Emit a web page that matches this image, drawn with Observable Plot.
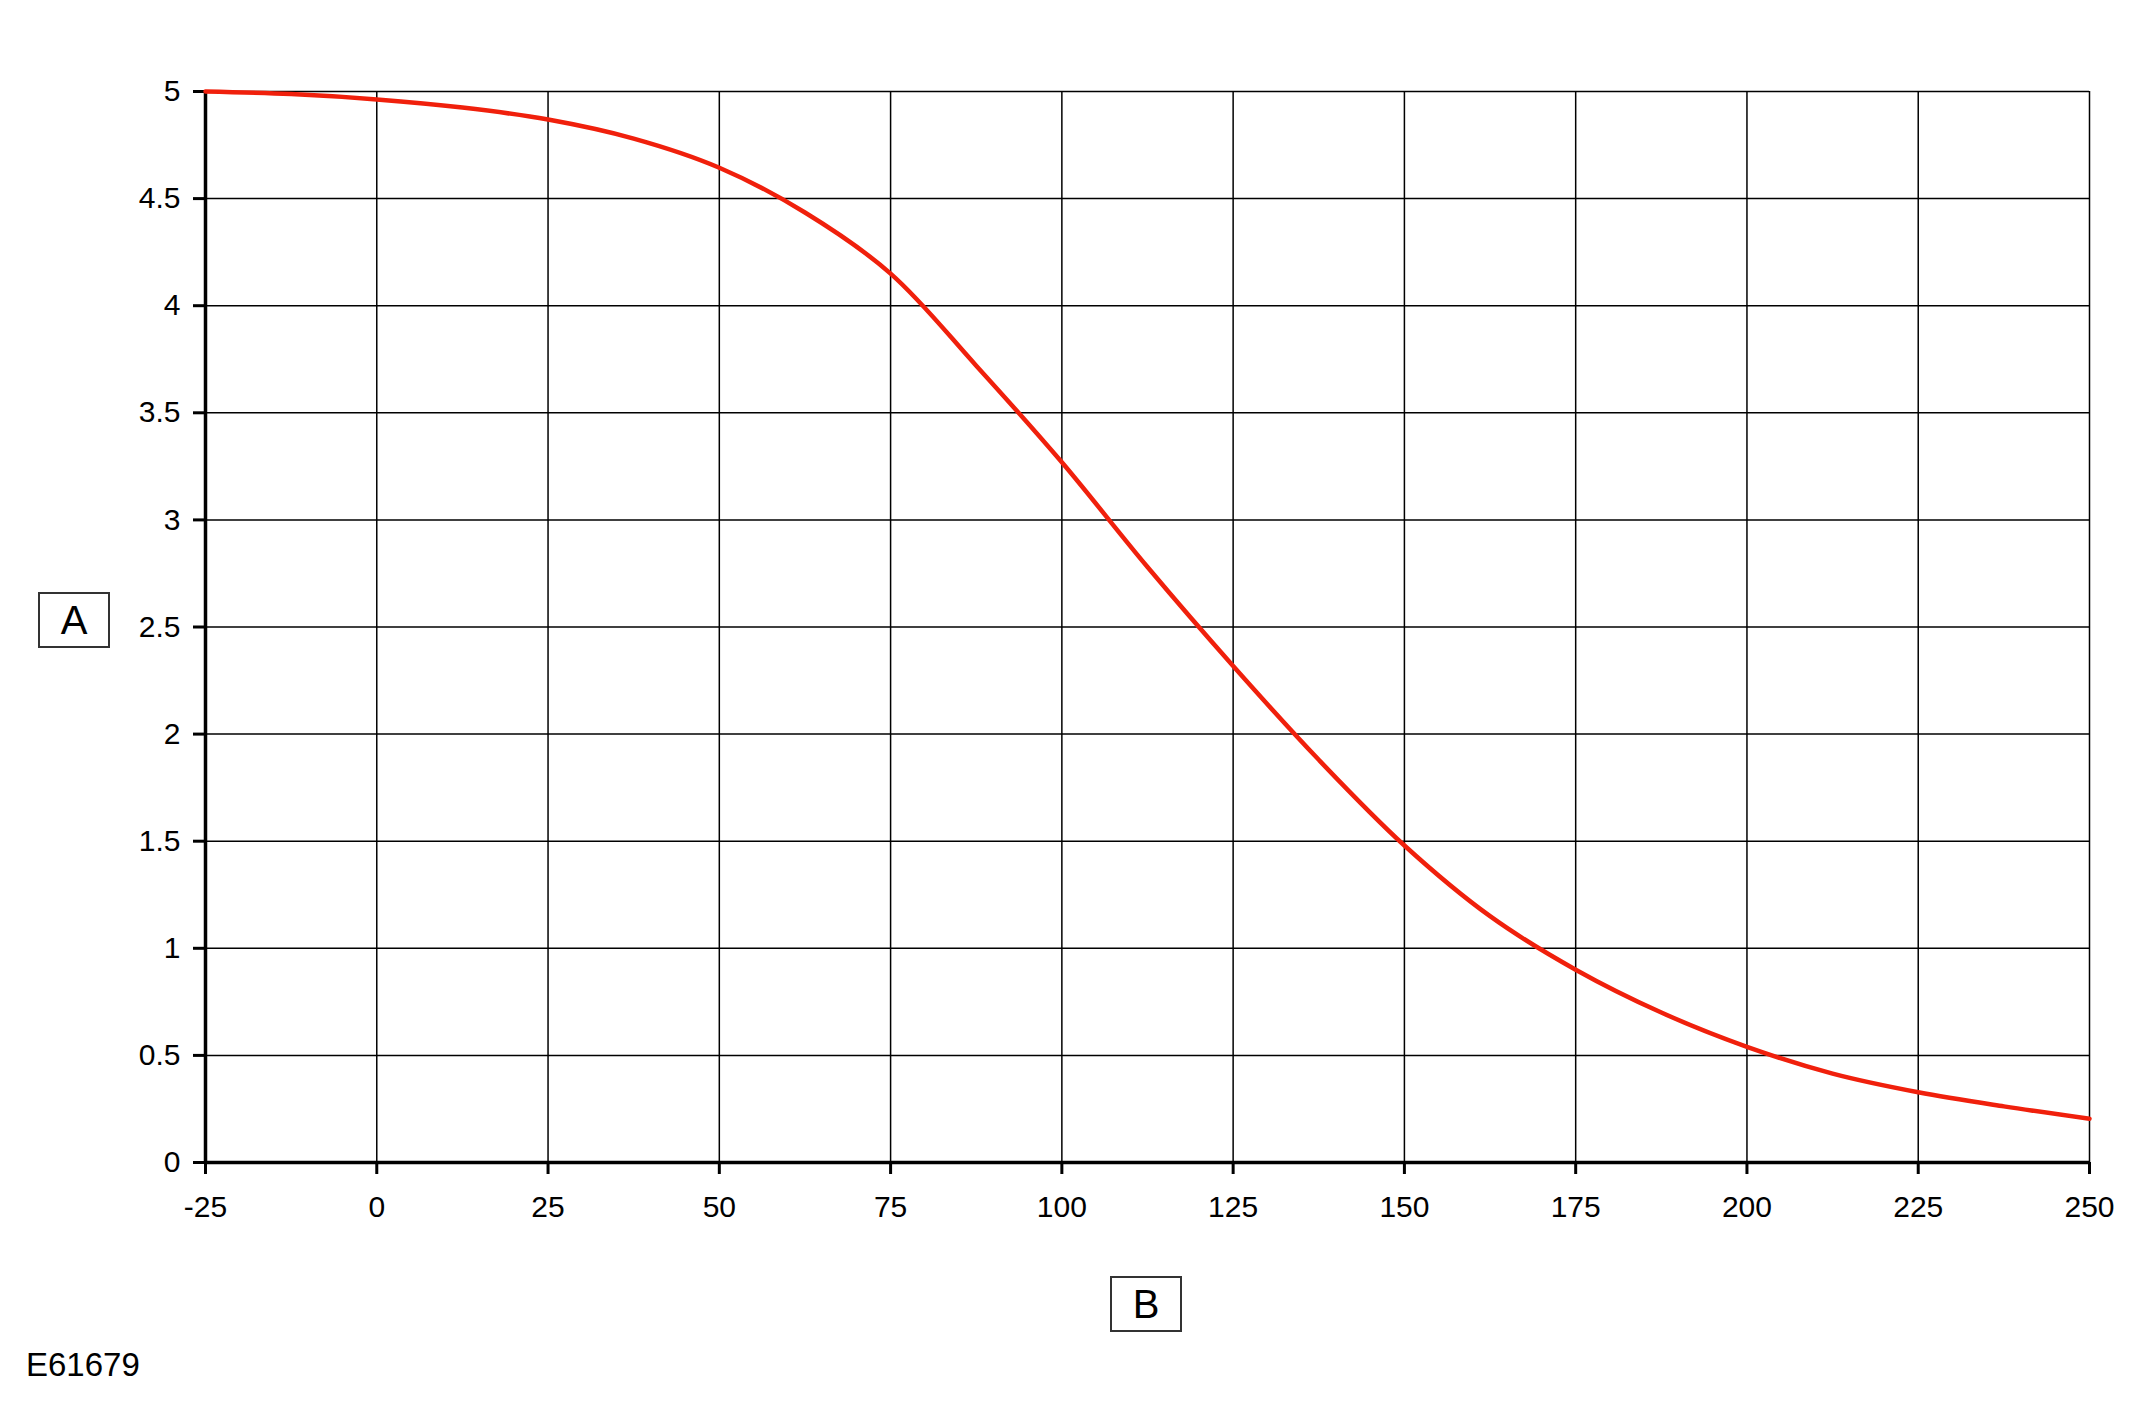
<!DOCTYPE html>
<html>
<head>
<meta charset="utf-8">
<script src="https://cdn.jsdelivr.net/npm/d3@7"></script>
<script src="https://cdn.jsdelivr.net/npm/@observablehq/plot@0.6"></script>
<style>
  html, body { margin: 0; padding: 0; background: white; }
  #wrap { position: relative; width: 2139px; height: 1407px; font-family: "Liberation Sans", Arial, Helvetica, sans-serif; }
  .box { position: absolute; box-sizing: border-box; border: 2px solid #333; display: flex; align-items: center; justify-content: center; font-size: 40px; color: #000; background: white; }
  #code { position: absolute; left: 26px; top: 1346px; font-size: 33px; color: #000; }
</style>
</head>
<body>
<div id="wrap"></div>
<script>
// Data
const xValues = [-25, -12.5, 0, 12.5, 25, 37.5, 50, 62.5, 75, 87.5, 100, 112.5, 125, 137.5, 150, 162.5, 175, 187.5, 200, 212.5, 225, 237.5, 250];
const yValues = [5.000, 4.988, 4.963, 4.925, 4.869, 4.78, 4.644, 4.435, 4.15, 3.72, 3.269, 2.78, 2.318, 1.88, 1.48, 1.15, 0.9, 0.70, 0.54, 0.415, 0.328, 0.262, 0.204];
const xTicks = [-25, 0, 25, 50, 75, 100, 125, 150, 175, 200, 225, 250];
const yTicks = [0, 0.5, 1, 1.5, 2, 2.5, 3, 3.5, 4, 4.5, 5];
const yLabel = "A";
const xLabel = "B";
const codeLabel = "E61679";

const data = xValues.map((x, i) => ({x, y: yValues[i]}));

const chart = Plot.plot({
  width: 2139,
  height: 1407,
  marginLeft: 205,
  marginRight: 50,
  marginTop: 91,
  marginBottom: 245,
  style: {fontFamily: "'Liberation Sans', Arial, Helvetica, sans-serif", fontSize: "30px", background: "white", color: "black", overflow: "visible"},
  x: {domain: [-25, 250]},
  y: {domain: [0, 5]},
  marks: [
    Plot.gridX(xTicks, {stroke: "black", strokeOpacity: 1, strokeWidth: 1.5}),
    Plot.gridY(yTicks, {stroke: "black", strokeOpacity: 1, strokeWidth: 1.5}),
    Plot.axisX(xTicks, {tickSize: 12, tickPadding: 21, strokeWidth: 3, tickFormat: d => String(d), label: null, fontSize: 30, fill: "black"}),
    Plot.axisY(yTicks, {tickSize: 12, tickPadding: 13, strokeWidth: 3, tickFormat: d => String(d), label: null, fontSize: 30, fill: "black"}),
    Plot.ruleX([-25], {stroke: "black", strokeWidth: 3.5}),
    Plot.ruleY([0], {stroke: "black", strokeWidth: 3.5}),
    Plot.line(data, {x: "x", y: "y", stroke: "#f0200c", strokeWidth: 4.5, curve: "catmull-rom"})
  ]
});

const wrap = document.getElementById("wrap");
wrap.appendChild(chart);
chart.style.position = "absolute";
chart.style.left = "0";
chart.style.top = "0";

const a = document.createElement("div");
a.className = "box";
a.textContent = yLabel;
Object.assign(a.style, {left: "38px", top: "592px", width: "72px", height: "56px"});
wrap.appendChild(a);

const b = document.createElement("div");
b.className = "box";
b.textContent = xLabel;
Object.assign(b.style, {left: "1110px", top: "1276px", width: "72px", height: "56px"});
wrap.appendChild(b);

const c = document.createElement("div");
c.id = "code";
c.textContent = codeLabel;
wrap.appendChild(c);
</script>
</body>
</html>
